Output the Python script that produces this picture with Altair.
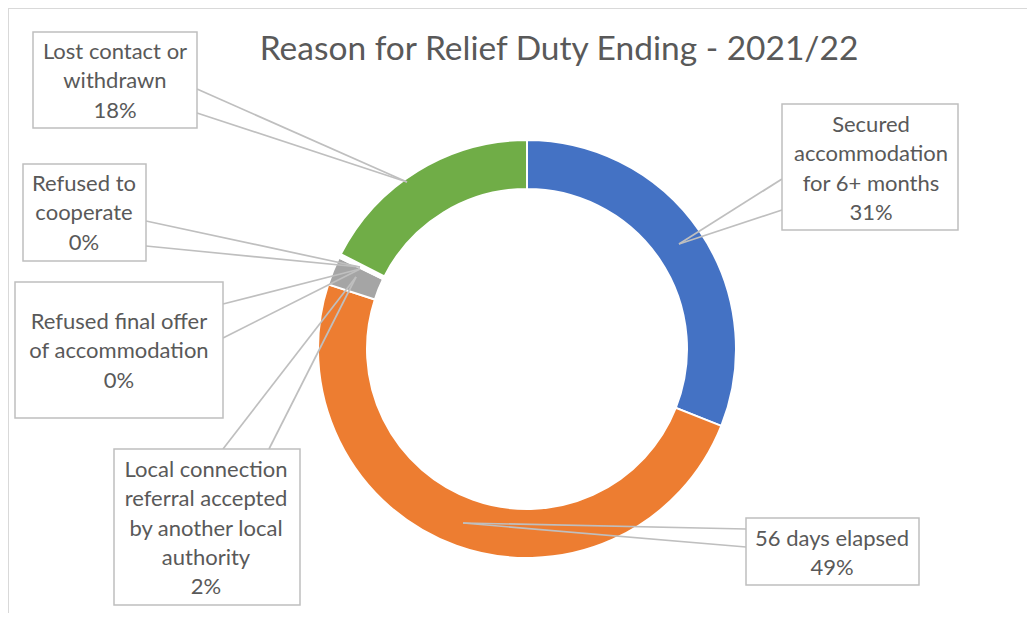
import altair as alt
import pandas as pd

# ---- data ----
categories = [
    "Secured accommodation for 6+ months",
    "56 days elapsed",
    "Local connection referral accepted by another local authority",
    "Refused final offer of accommodation",
    "Refused to cooperate",
    "Lost contact or withdrawn",
]
values = [31.0, 49.0, 2.2, 0.15, 0.15, 17.5]
colors = ["#4472C4", "#ED7D31", "#A5A5A5", "#A5A5A5", "#A5A5A5", "#70AD47"]
label_lines = [
    ["Secured", "accommodation", "for 6+ months", "31%"],
    ["56 days elapsed", "49%"],
    ["Local connection", "referral accepted", "by another local", "authority", "2%"],
    ["Refused final offer", "of accommodation", "0%"],
    ["Refused to", "cooperate", "0%"],
    ["Lost contact or", "withdrawn", "18%"],
]
title_text = "Reason for Relief Duty Ending - 2021/22"

# ---- layout (page pixel positions of callouts) ----
box_x1 = [782, 746, 114, 15, 23, 33]
box_x2 = [958, 919, 300, 223, 146, 197]
box_y1 = [104, 518, 449, 282, 164, 32]
box_y2 = [230, 585, 605, 418, 261, 128]
text_cx = [871, 832, 206, 119, 84, 115]
text_y0 = [125, 539, 470, 322, 184, 52]
line_gap = 29.3
wedge_a = [(782, 179), (746, 529), (223, 449), (223, 304), (146, 221), (197, 89)]
wedge_b = [(782, 210), (746, 547), (269, 449), (223, 338), (146, 246), (197, 113)]
wedge_tip = [(679, 244), (463, 523), (356, 277), (360, 269), (360, 267), (407, 182)]

W, H = 1019, 605
CX, CY = 527, 349
FONT = "Lato"
TXT = "#595959"

xs = alt.Scale(domain=[8, 8 + W], range=[0, W])
ys = alt.Scale(domain=[8, 8 + H], range=[0, H])

pie_df = pd.DataFrame({"category": categories, "value": values, "idx": list(range(len(values)))})

box_df = pd.DataFrame({"x1": box_x1, "x2": box_x2, "y1": box_y1, "y2": box_y2})

lead_rows = []
for a, b, t in zip(wedge_a, wedge_b, wedge_tip):
    lead_rows.append({"x1": a[0], "y1": a[1], "x2": t[0], "y2": t[1]})
    lead_rows.append({"x1": b[0], "y1": b[1], "x2": t[0], "y2": t[1]})
lead_df = pd.DataFrame(lead_rows)

text_rows = []
for lines, cx, y0 in zip(label_lines, text_cx, text_y0):
    for i, ln in enumerate(lines):
        text_rows.append({"x": cx, "y": y0 + i * line_gap, "t": ln})
text_df = pd.DataFrame(text_rows)

title_df = pd.DataFrame({"x": [559], "y": [50], "t": [title_text]})
frame_df = pd.DataFrame({"x1": [8, 8], "y1": [8, 8], "x2": [8, 8 + W], "y2": [8 + H, 8]})

X = lambda f: alt.X(f, type="quantitative", scale=xs, axis=None)
Y = lambda f: alt.Y(f, type="quantitative", scale=ys, axis=None)

frame = alt.Chart(frame_df).mark_rule(color="#D9D9D9", strokeWidth=2).encode(
    x=X("x1"), y=Y("y1"), x2="x2:Q", y2="y2:Q"
)

donut = alt.Chart(pie_df).mark_arc(
    outerRadius=209, innerRadius=160, stroke="white", strokeWidth=2
).encode(
    theta=alt.Theta("value:Q", stack=True),
    order=alt.Order("idx:Q"),
    color=alt.Color("category:N", scale=alt.Scale(domain=categories, range=colors), legend=None),
    x=alt.value(CX - 8),
    y=alt.value(CY - 8),
)

leaders = alt.Chart(lead_df).mark_rule(color="#BFBFBF", strokeWidth=1.7).encode(
    x=X("x1"), y=Y("y1"), x2="x2:Q", y2="y2:Q"
)

boxes = alt.Chart(box_df).mark_rect(fill="white", stroke="#BFBFBF", strokeWidth=1.5).encode(
    x=X("x1"), x2="x2:Q", y=Y("y1"), y2="y2:Q"
)

labels = alt.Chart(text_df).mark_text(
    font=FONT, fontSize=22, color=TXT, align="center", baseline="middle"
).encode(x=X("x"), y=Y("y"), text="t:N")

title = alt.Chart(title_df).mark_text(
    font=FONT, fontSize=33.5, color=TXT, align="center", baseline="middle"
).encode(x=X("x"), y=Y("y"), text="t:N")

chart = alt.layer(frame, donut, leaders, boxes, labels, title).properties(
    width=W, height=H, padding=0, autosize=alt.AutoSizeParams(type="none")
).configure_view(stroke=None)

chart.save("out.html", embed_options={"renderer": "svg", "actions": False})
